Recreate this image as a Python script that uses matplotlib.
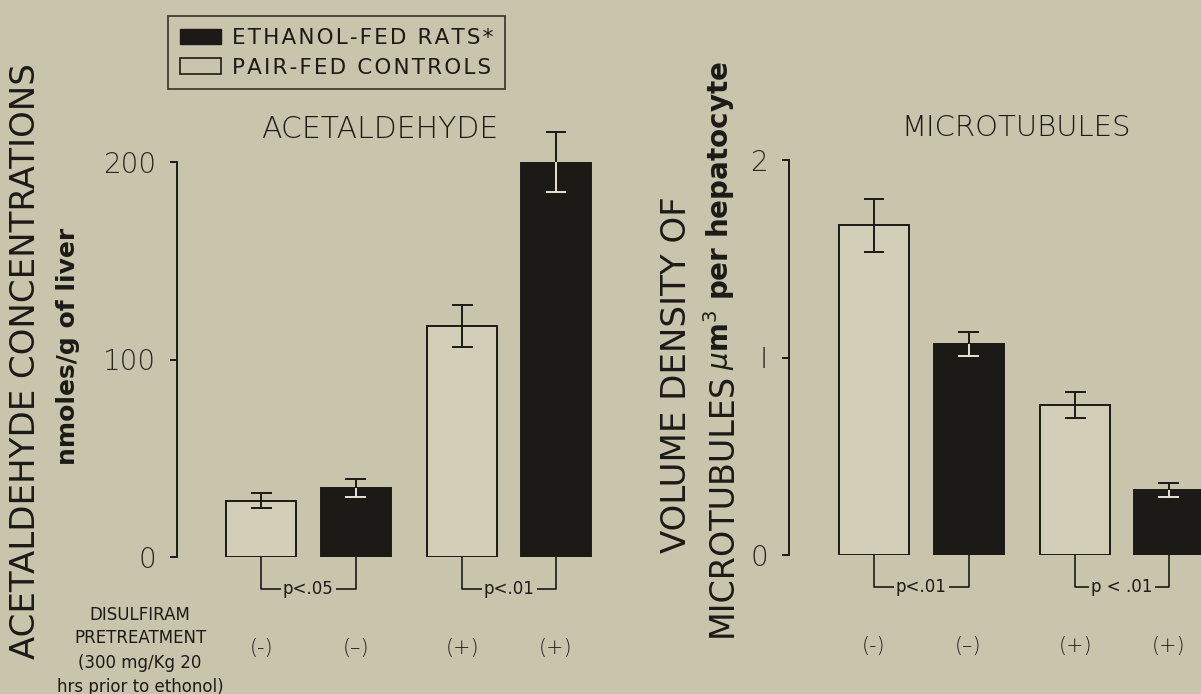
import numpy as np
import matplotlib
matplotlib.use("Agg")
import matplotlib.pyplot as plt
from matplotlib.patches import Patch

# data
groups = ["(-)", "(\u2013)", "(+)", "(+)"]
ethanol = [False, True, False, True]
acet_vals = [28.5, 35.0, 117.0, 200.0]
acet_err = [3.8, 4.5, 10.5, 15.0]
micro_vals = [1.67, 1.07, 0.76, 0.33]
micro_err = [0.135, 0.06, 0.065, 0.035]
acet_p = ["p<.05", "p<.01"]
micro_p = ["p<.01", "p < .01"]
acet_ticks = [0, 100, 200]
micro_ticks = [0, 1, 2]
micro_ticklabels = ["0", "I", "2"]
legend_labels = ["ETHANOL-FED RATS*", "PAIR-FED CONTROLS"]

BG = "#c9c5ad"
INK = "#1c1a17"
W, H = 1201, 694
pos = np.array([0, 1, 2.13, 3.12])

fig = plt.figure(figsize=(W / 100, H / 100), dpi=100, facecolor=BG)


def px(x, y):
    return x / W, 1 - y / H


def spaced(s):
    return "\u200a".join(s)


def panel(left_px, right_px, top_px, bottom_px, vals, errs, ymax, ticks, ticklabels, pvals, xleft):
    l, t = px(left_px, top_px)
    r, b = px(right_px, bottom_px)
    ax = fig.add_axes([l, b, r - l, t - b])
    ax.set_facecolor("none")
    unit = (right_px - left_px)
    ax.set_xlim(xleft, xleft + unit / 94.5)
    ax.set_ylim(0, ymax)
    for s in ["top", "right", "bottom"]:
        ax.spines[s].set_visible(False)
    ax.spines["left"].set_bounds(0, ymax)
    ax.spines["left"].set_linewidth(1.4)
    ax.spines["left"].set_color(INK)
    ax.set_xticks([])
    ax.set_yticks(ticks)
    ax.set_yticklabels(ticklabels)
    ax.tick_params(axis="y", direction="out", length=5, width=1.4, color=INK,
                   labelsize=20, labelcolor="#2a2824", pad=10)
    for lab in ax.get_yticklabels():
        lab.set_fontweight("light")

    cols = [INK if e else "#d2ceb8" for e in ethanol]
    ax.bar(pos, vals, width=0.74, color=cols, edgecolor=INK, linewidth=1.4, zorder=2)
    cw = 0.11
    for x, v, e, black in zip(pos, vals, errs, ethanol):
        ax.vlines(x, v, v + e, color=INK, lw=1.4, zorder=3, clip_on=False)
        ax.hlines(v + e, x - cw, x + cw, color=INK, lw=1.4, zorder=3, clip_on=False)
        lowc = "#e8e4d0" if black else INK
        ax.vlines(x, v - e, v, color=lowc, lw=1.4, zorder=3, clip_on=False)
        ax.hlines(v - e, x - cw, x + cw, color=lowc, lw=1.4, zorder=3, clip_on=False)

    by = -0.08 * ymax
    for i, ptxt in enumerate(pvals):
        x1, x2 = pos[2 * i], pos[2 * i + 1]
        ax.plot([x1, x1, x2, x2], [0, by, by, 0], color=INK, lw=1.2, clip_on=False, zorder=1)
        ax.text((x1 + x2) / 2, by, ptxt, ha="center", va="center", fontsize=12,
                color=INK, bbox=dict(facecolor=BG, edgecolor="none", pad=1.5), zorder=4)
    for x, g in zip(pos, groups):
        ax.text(x, -0.23 * ymax, g, ha="center", va="center", fontsize=15,
                color=INK, fontweight="light")
    return ax


ax1 = panel(177, 640, 162, 557, acet_vals, acet_err, 200, acet_ticks,
            [str(t) for t in acet_ticks], acet_p, -0.89)
ax2 = panel(789, 1290, 160, 555, micro_vals, micro_err, 2, micro_ticks,
            micro_ticklabels, micro_p, -0.9)

# panel titles
fig.text(*px(380, 129), "ACETALDEHYDE", ha="center", va="center", fontsize=21.5,
         color=INK, fontweight="light")
fig.text(*px(1016, 128), "MICROTUBULES", ha="center", va="center", fontsize=21,
         color=INK, fontweight="light")

# y labels
fig.text(*px(26, 361), "ACETALDEHYDE CONCENTRATIONS", rotation=90, ha="center",
         va="center", fontsize=24.5, color=INK)
fig.text(*px(68, 346), "nmoles/g of liver", rotation=90, ha="center", va="center",
         fontsize=18, fontweight="bold", color=INK)
fig.text(*px(677, 375), "VOLUME DENSITY OF", rotation=90, ha="center", va="center",
         fontsize=24.5, color=INK)
fig.text(*px(722, 637), "MICROTUBULES", rotation=90, ha="center", va="bottom",
         fontsize=24, color=INK)
fig.text(*px(719, 370), r"$\mu$m$^3$ per hepatocyte", rotation=90, ha="center",
         va="bottom", fontsize=20, fontweight="bold", color=INK)

# pretreatment note
note = ["DISULFIRAM", "PRETREATMENT", "(300 mg/Kg 20", "hrs prior to ethonol)"]
for yy, line in zip([615, 638, 663, 687], note):
    fig.text(*px(140, yy), line, ha="center", va="center", fontsize=12, color=INK)

# legend
handles = [Patch(facecolor=INK, edgecolor=INK, label=spaced(legend_labels[0])),
           Patch(facecolor=BG, edgecolor=INK, lw=1.2, label=spaced(legend_labels[1]))]
leg = fig.legend(handles=handles, loc="upper left", bbox_to_anchor=px(168, 16),
                 fontsize=15.5, frameon=True, fancybox=False, edgecolor=INK,
                 facecolor=BG, handlelength=1.9, handleheight=0.7, handletextpad=0.5,
                 borderpad=0.55, labelspacing=0.45, borderaxespad=0)
leg.get_frame().set_linewidth(1.3)
for t in leg.get_texts():
    t.set_color(INK)

fig.savefig("out.png", dpi=100, facecolor=BG)
